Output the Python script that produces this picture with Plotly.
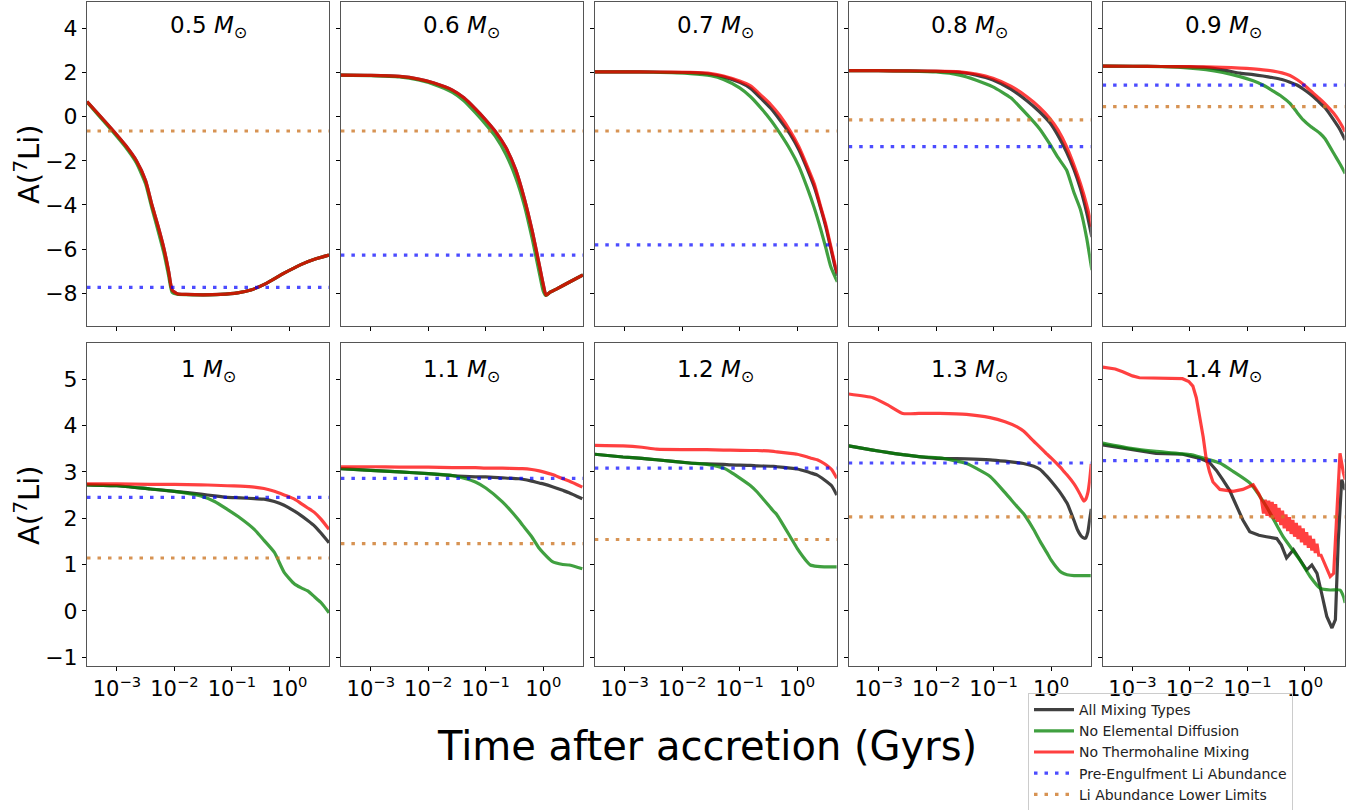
import numpy as np
import plotly.graph_objects as go

# ---------------- data (log10 of time in Gyr, A(7Li)) ----------------
MASS_LABELS = ["0.5", "0.6", "0.7", "0.8", "0.9", "1", "1.1", "1.2", "1.3", "1.4"]
PRE_ENGULF = [-7.73, -6.27, -5.81, -1.36, 1.43, 2.45, 2.86, 3.08, 3.19, 3.24]
LOWER_LIM = [-0.65, -0.65, -0.65, -0.15, 0.45, 1.14, 1.45, 1.54, 2.03, 2.03]

# 0.5 Msun
M05_LT = [-3.52, -3.3, -3.06, -2.85, -2.66, -2.5, -2.39, -2.28, -2.18, -2.1, -2.04, -1.95, -1.8, -1.5,
          -1.2, -0.9, -0.67, -0.4, -0.1, 0.2, 0.45, 0.69]
M05_ALL = [0.68, 0.05, -0.65, -1.3, -2.0, -2.9, -4.0, -5.0, -6.0, -7.0, -7.85, -8.02, -8.05, -8.07,
           -8.05, -7.98, -7.85, -7.55, -7.1, -6.7, -6.45, -6.27]
M05_NOD = [0.66, 0.0, -0.72, -1.38, -2.1, -3.05, -4.15, -5.2, -6.2, -7.2, -7.95, -8.04, -8.06, -8.07,
           -8.05, -7.98, -7.85, -7.55, -7.1, -6.7, -6.45, -6.27]
M05_NTH = [0.68, 0.05, -0.65, -1.3, -2.0, -2.9, -4.0, -5.0, -6.0, -7.0, -7.85, -8.02, -8.05, -8.07,
           -8.05, -7.98, -7.85, -7.55, -7.1, -6.7, -6.45, -6.27]

# 0.6 Msun
M06_LT = [-3.54, -3.0, -2.5, -2.17, -1.9, -1.58, -1.38, -1.18, -1.0, -0.83, -0.65, -0.48, -0.33, -0.19,
          -0.07, 0.0, 0.047, 0.12, 0.22, 0.45, 0.69]
M06_ALL = [1.88, 1.87, 1.82, 1.70, 1.52, 1.2, 0.85, 0.35, -0.15, -0.68, -1.4, -2.4, -3.7, -5.2,
           -6.7, -7.6, -8.08, -7.95, -7.82, -7.5, -7.17]
M06_NOD = [1.88, 1.86, 1.80, 1.66, 1.46, 1.1, 0.72, 0.18, -0.35, -0.9, -1.7, -2.75, -4.0, -5.55,
           -7.05, -7.9, -8.1, -7.95, -7.82, -7.5, -7.17]
M06_NTH = [1.88, 1.87, 1.82, 1.70, 1.52, 1.2, 0.85, 0.35, -0.15, -0.68, -1.4, -2.4, -3.7, -5.2,
           -6.7, -7.6, -8.08, -7.95, -7.82, -7.5, -7.17]

# 0.7 Msun
M07_LT = [-3.52, -3.0, -2.5, -1.86, -1.5, -1.28, -1.0, -0.81, -0.6, -0.46, -0.3, -0.12, 0.03, 0.18,
          0.3, 0.41, 0.5, 0.58, 0.65, 0.70]
M07_ALL = [2.03, 2.03, 2.02, 1.99, 1.92, 1.8, 1.55, 1.28, 0.75, 0.38, -0.15, -0.8, -1.5, -2.4,
           -3.2, -4.15, -5.0, -5.9, -6.7, -7.2]
M07_NOD = [2.03, 2.03, 2.01, 1.95, 1.85, 1.68, 1.3, 0.9, 0.3, -0.15, -0.75, -1.5, -2.25, -3.25,
           -4.15, -5.1, -5.95, -6.75, -7.2, -7.48]
M07_NTH = [2.03, 2.03, 2.02, 2.0, 1.95, 1.84, 1.61, 1.39, 0.9, 0.55, 0.05, -0.65, -1.36, -2.27,
           -3.05, -4.08, -4.9, -5.81, -6.6, -7.1]

# 0.8 Msun
M08_LT = [-3.52, -3.0, -2.5, -2.0, -1.59, -1.3, -1.01, -0.7, -0.42, -0.2, -0.02, 0.12, 0.27, 0.4,
          0.51, 0.62, 0.71]
M08_ALL = [2.08, 2.08, 2.07, 2.05, 2.0, 1.88, 1.66, 1.25, 0.72, 0.22, -0.28, -0.85, -1.6, -2.4,
           -3.25, -4.35, -5.45]
M08_NOD = [2.08, 2.08, 2.06, 2.02, 1.88, 1.65, 1.35, 0.85, 0.1, -0.55, -1.25, -1.85, -2.42, -3.45,
           -4.2, -5.5, -6.95]
M08_NTH = [2.08, 2.08, 2.07, 2.06, 2.03, 1.93, 1.74, 1.38, 0.9, 0.42, -0.08, -0.6, -1.36, -2.2,
           -3.02, -4.0, -4.98]

# 0.9 Msun
M09_LT = [-3.52, -3.0, -2.5, -2.0, -1.72, -1.43, -1.13, -0.9, -0.73, -0.55, -0.4, -0.26, -0.14, -0.03,
          0.1, 0.21, 0.26, 0.35, 0.5, 0.6, 0.70]
M09_ALL = [2.29, 2.28, 2.27, 2.25, 2.22, 2.12, 1.97, 1.9, 1.84, 1.76, 1.68, 1.56, 1.43, 1.25,
           1.0, 0.75, 0.62, 0.4, -0.15, -0.55, -1.06]
M09_NOD = [2.29, 2.28, 2.26, 2.2, 2.13, 2.0, 1.81, 1.62, 1.43, 1.15, 0.9, 0.6, 0.2, -0.15,
           -0.45, -0.65, -0.75, -1.0, -1.66, -2.1, -2.57]
M09_NTH = [2.29, 2.28, 2.27, 2.26, 2.25, 2.23, 2.2, 2.16, 2.12, 2.06, 1.98, 1.86, 1.68, 1.47,
           1.17, 0.91, 0.8, 0.58, 0.15, -0.22, -0.68]

# 1.0 Msun
M10_LT = [-3.52, -3.0, -2.42, -2.0, -1.54, -1.3, -1.08, -0.85, -0.61, -0.44, -0.26, -0.09, 0.09, 0.2,
          0.32, 0.44, 0.55, 0.69]
M10_ALL = [2.72, 2.70, 2.63, 2.58, 2.52, 2.48, 2.45, 2.44, 2.42, 2.41, 2.36, 2.28, 2.15, 2.06,
           1.95, 1.83, 1.68, 1.47]
M10_NOD = [2.72, 2.70, 2.63, 2.58, 2.48, 2.36, 2.19, 2.0, 1.76, 1.52, 1.26, 0.83, 0.58, 0.5,
           0.43, 0.3, 0.18, -0.04]
M10_NTH = [2.74, 2.74, 2.73, 2.73, 2.72, 2.71, 2.7, 2.69, 2.67, 2.64, 2.58, 2.5, 2.41, 2.32,
           2.22, 2.12, 1.98, 1.76]

# 1.1 Msun
M11_LT = [-3.54, -3.0, -2.5, -2.0, -1.58, -1.38, -1.18, -1.0, -0.71, -0.42, -0.36, -0.2, -0.07, 0.0,
          0.16, 0.34, 0.45, 0.68]
M11_ALL = [3.07, 3.03, 3.0, 2.96, 2.92, 2.9, 2.89, 2.89, 2.87, 2.85, 2.84, 2.8, 2.76, 2.74,
           2.68, 2.6, 2.55, 2.42]
M11_NOD = [3.07, 3.03, 3.0, 2.96, 2.92, 2.86, 2.78, 2.65, 2.35, 1.95, 1.85, 1.6, 1.35, 1.25,
           1.06, 1.0, 0.99, 0.91]
M11_NTH = [3.11, 3.11, 3.1, 3.1, 3.09, 3.09, 3.09, 3.08, 3.08, 3.07, 3.07, 3.05, 3.02, 3.0,
           2.94, 2.85, 2.8, 2.67]

# 1.2 Msun
M12_LT = [-3.52, -3.03, -2.7, -2.45, -1.87, -1.57, -1.28, -1.16, -0.81, -0.70, -0.41, -0.35, -0.12, 0.0,
          0.18, 0.23, 0.35, 0.47, 0.6, 0.69]
M12_ALL = [3.38, 3.32, 3.29, 3.26, 3.19, 3.17, 3.16, 3.15, 3.14, 3.13, 3.12, 3.11, 3.08, 3.06,
           3.0, 2.98, 2.93, 2.83, 2.7, 2.5]
M12_NOD = [3.38, 3.32, 3.29, 3.26, 3.19, 3.16, 3.08, 3.0, 2.7, 2.57, 2.15, 2.07, 1.6, 1.35,
           1.05, 0.99, 0.96, 0.95, 0.95, 0.95]
M12_NTH = [3.57, 3.56, 3.53, 3.49, 3.48, 3.48, 3.47, 3.47, 3.46, 3.46, 3.44, 3.43, 3.40, 3.38,
           3.32, 3.30, 3.26, 3.18, 3.05, 2.86]

# 1.3 Msun
M13_LT = [-3.52, -3.1, -2.85, -2.58, -2.3, -1.94, -1.47, -1.06, -0.8, -0.59, -0.48, -0.3, -0.19, -0.07,
          0.0, 0.16, 0.23, 0.28, 0.4, 0.46, 0.52, 0.57, 0.6, 0.64, 0.67, 0.70]
M13_ALL = [3.56, 3.47, 3.42, 3.37, 3.33, 3.29, 3.28, 3.26, 3.23, 3.2, 3.18, 3.12, 3.05, 2.9,
           2.8, 2.55, 2.42, 2.32, 1.95, 1.75, 1.62, 1.57, 1.57, 1.7, 1.95, 2.2]
M13_NOD = [3.56, 3.47, 3.42, 3.37, 3.33, 3.30, 3.18, 2.9, 2.55, 2.25, 2.1, 1.75, 1.5, 1.25,
           1.10, 0.85, 0.8, 0.78, 0.76, 0.76, 0.76, 0.76, 0.76, 0.76, 0.76, 0.76]
M13_NTH = [4.68, 4.6, 4.45, 4.26, 4.26, 4.26, 4.24, 4.17, 4.08, 3.97, 3.88, 3.66, 3.53, 3.38,
           3.3, 3.10, 3.0, 2.93, 2.74, 2.62, 2.48, 2.37, 2.4, 2.55, 2.8, 3.17]

# 1.4 Msun (series with their own time grids)
M14_ALL_LT = [-3.52, -3.0, -2.59, -2.13, -1.83, -1.66, -1.54, -1.43, -1.31, -1.25, -1.08, -0.96, -0.80,
              -0.67, -0.49, -0.41, -0.32, -0.20, -0.09, 0.03, 0.12, 0.21, 0.29, 0.38, 0.47, 0.53,
              0.58, 0.64, 0.70]
M14_ALL = [3.58, 3.47, 3.40, 3.38, 3.29, 3.2, 3.03, 2.83, 2.6, 2.43, 1.96, 1.71, 1.63,
           1.60, 1.56, 1.42, 1.14, 1.32, 1.10, 0.88, 0.99, 0.81, 0.38, -0.12, -0.37, -0.19,
           1.53, 2.83, 2.61]
M14_NOD_LT = [-3.52, -3.0, -2.59, -1.99, -1.66, -1.48, -1.25, -0.96, -0.67, -0.38, -0.09, 0.09, 0.26,
              0.44, 0.61, 0.67, 0.70]
M14_NOD = [3.62, 3.5, 3.44, 3.37, 3.26, 3.19, 3.01, 2.76, 2.25, 1.60, 1.10, 0.74, 0.49,
           0.45, 0.45, 0.31, 0.17]
M14_NTH_LT = [-3.52, -3.3, -3.17, -3.0, -2.88, -2.5, -2.13, -2.02, -1.95, -1.89, -1.83, -1.77, -1.72,
              -1.66, -1.60, -1.48, -1.25, -1.08, -0.90, -0.80, -0.757, -0.72, -0.69, -0.66, -0.63,
              -0.60, -0.57, -0.54, -0.51, -0.48, -0.45, -0.42, -0.39, -0.36, -0.33, -0.30, -0.27,
              -0.24, -0.21, -0.18, -0.15, -0.12, -0.09, -0.06, -0.03, 0.0, 0.03, 0.06, 0.09, 0.12,
              0.15, 0.18, 0.21, 0.24, 0.28, 0.35, 0.44, 0.50, 0.555, 0.61, 0.67, 0.70]
M14_NTH = [5.26, 5.22, 5.16, 5.07, 5.03, 5.02, 5.01, 4.95, 4.85, 4.6, 4.2, 3.75, 3.3,
           3.0, 2.78, 2.62, 2.58, 2.62, 2.72, 2.52, 2.40, 2.10, 2.40, 2.05, 2.38,
           2.02, 2.35, 1.98, 2.30, 1.92, 2.22, 1.85, 2.16, 1.78, 2.08, 1.72, 2.02,
           1.66, 1.96, 1.60, 1.90, 1.55, 1.84, 1.48, 1.78, 1.42, 1.70, 1.36, 1.62, 1.30,
           1.55, 1.25, 1.45, 1.20, 1.20, 0.99, 0.74, 0.81, 2.25, 3.40, 2.97, 2.83]

PANELS = [
    (M05_LT, M05_ALL, M05_LT, M05_NOD, M05_LT, M05_NTH),
    (M06_LT, M06_ALL, M06_LT, M06_NOD, M06_LT, M06_NTH),
    (M07_LT, M07_ALL, M07_LT, M07_NOD, M07_LT, M07_NTH),
    (M08_LT, M08_ALL, M08_LT, M08_NOD, M08_LT, M08_NTH),
    (M09_LT, M09_ALL, M09_LT, M09_NOD, M09_LT, M09_NTH),
    (M10_LT, M10_ALL, M10_LT, M10_NOD, M10_LT, M10_NTH),
    (M11_LT, M11_ALL, M11_LT, M11_NOD, M11_LT, M11_NTH),
    (M12_LT, M12_ALL, M12_LT, M12_NOD, M12_LT, M12_NTH),
    (M13_LT, M13_ALL, M13_LT, M13_NOD, M13_LT, M13_NTH),
    (M14_ALL_LT, M14_ALL, M14_NOD_LT, M14_NOD, M14_NTH_LT, M14_NTH),
]

SERIES_NAMES = ["All Mixing Types", "No Elemental Diffusion", "No Thermohaline Mixing"]
SERIES_COLORS = ["rgba(0,0,0,0.75)", "rgba(0,128,0,0.75)", "rgba(255,0,0,0.75)"]
BLUE = "rgba(0,0,255,0.7)"
ORANGE = "rgba(205,120,40,0.8)"

X_RANGE = [-3.52, 0.69]
Y_RANGE_TOP = [-9.48, 5.19]
Y_RANGE_BOT = [-1.19, 5.78]

W, H = 1364, 810
FONT = "DejaVu Sans"

fig = go.Figure()
layout = dict(width=W, height=H, margin=dict(l=0, r=0, t=0, b=0, autoexpand=False),
              paper_bgcolor="white", plot_bgcolor="white",
              font=dict(family=FONT, color="black"))

annotations = []
for i in range(10):
    row, col = divmod(i, 5)
    n = i + 1
    xa = "xaxis" if n == 1 else f"xaxis{n}"
    ya = "yaxis" if n == 1 else f"yaxis{n}"
    xr = "x" if n == 1 else f"x{n}"
    yr = "y" if n == 1 else f"y{n}"
    left = 87 + 253.9 * col
    right = left + 242
    if row == 0:
        top, bot = 2, 326
    else:
        top, bot = 343, 666
    layout[xa] = dict(domain=[left / W, right / W], anchor=yr, type="log", range=X_RANGE,
                      tickvals=[1e-3, 1e-2, 1e-1, 1],
                      ticktext=["10<sup>−3</sup>", "10<sup>−2</sup>", "10<sup>−1</sup>", "10<sup>0</sup>"],
                      showticklabels=(row == 1), ticks="outside", ticklen=4, tickwidth=1, tickcolor="black",
                      showline=True, mirror=True, linecolor="#555", linewidth=1, showgrid=False, zeroline=False,
                      tickfont=dict(size=21, family=FONT, color="black"))
    layout[ya] = dict(domain=[1 - bot / H, 1 - top / H], anchor=xr,
                      range=Y_RANGE_TOP if row == 0 else Y_RANGE_BOT,
                      tickvals=[-8, -6, -4, -2, 0, 2, 4] if row == 0 else [-1, 0, 1, 2, 3, 4, 5],
                      ticktext=["−8", "−6", "−4", "−2", "0", "2", "4"] if row == 0 else ["−1", "0", "1", "2", "3", "4", "5"],
                      showticklabels=(col == 0), ticks="outside", ticklen=4, tickwidth=1, tickcolor="black",
                      showline=True, mirror=True, linecolor="#555", linewidth=1, showgrid=False, zeroline=False,
                      tickfont=dict(size=22, family=FONT, color="black"))

    data = PANELS[i]
    for s in range(3):
        lt = np.array(data[2 * s], dtype=float)
        yv = data[2 * s + 1]
        shape = "linear" if (i == 9 and s != 1) else "spline"
        fig.add_trace(go.Scatter(x=10 ** lt, y=yv, mode="lines", xaxis=xr, yaxis=yr,
                                 line=dict(color=SERIES_COLORS[s], width=3.2, shape=shape, smoothing=0.5),
                                 name=SERIES_NAMES[s], legendgroup=SERIES_NAMES[s], showlegend=(i == 0)))
    xs = [10 ** X_RANGE[0], 10 ** X_RANGE[1]]
    fig.add_trace(go.Scatter(x=xs, y=[PRE_ENGULF[i]] * 2, mode="lines", xaxis=xr, yaxis=yr,
                             line=dict(color=BLUE, width=3.2, dash="3.5px,7px"),
                             name="Pre-Engulfment Li Abundance", legendgroup="pre", showlegend=(i == 0)))
    fig.add_trace(go.Scatter(x=xs, y=[LOWER_LIM[i]] * 2, mode="lines", xaxis=xr, yaxis=yr,
                             line=dict(color=ORANGE, width=3.2, dash="3.5px,7px"),
                             name="Li Abundance Lower Limits", legendgroup="low", showlegend=(i == 0)))

    title_y = (27 if row == 0 else 371)
    annotations.append(dict(text=f"{MASS_LABELS[i]} <i>M</i><sub>⊙</sub>", xref="paper", yref="paper",
                            x=(left + right) / 2 / W, y=1 - title_y / H, xanchor="center", yanchor="middle",
                            showarrow=False, font=dict(size=23, family=FONT, color="black")))

for yc in [164, 505]:
    annotations.append(dict(text="A(<sup>7</sup>Li)", xref="paper", yref="paper", x=27 / W, y=1 - yc / H,
                            xanchor="center", yanchor="middle", textangle=-90, showarrow=False,
                            font=dict(size=29, family=FONT, color="black")))
annotations.append(dict(text="Time after accretion (Gyrs)", xref="paper", yref="paper", x=707 / W, y=1 - 746 / H,
                        xanchor="center", yanchor="middle", showarrow=False,
                        font=dict(size=40, family=FONT, color="black")))

layout["annotations"] = annotations
layout["legend"] = dict(x=1028 / W, y=1 - 693 / H, xanchor="left", yanchor="top",
                        bgcolor="rgba(255,255,255,0)", bordercolor="#cccccc", borderwidth=1,
                        font=dict(size=14, family=FONT, color="#222"), tracegroupgap=0,
                        itemwidth=40)
fig.update_layout(**layout)
fig.write_html("out.html", config={"displayModeBar": False},
               post_script="document.body.style.margin='0';document.body.style.overflow='hidden';")
